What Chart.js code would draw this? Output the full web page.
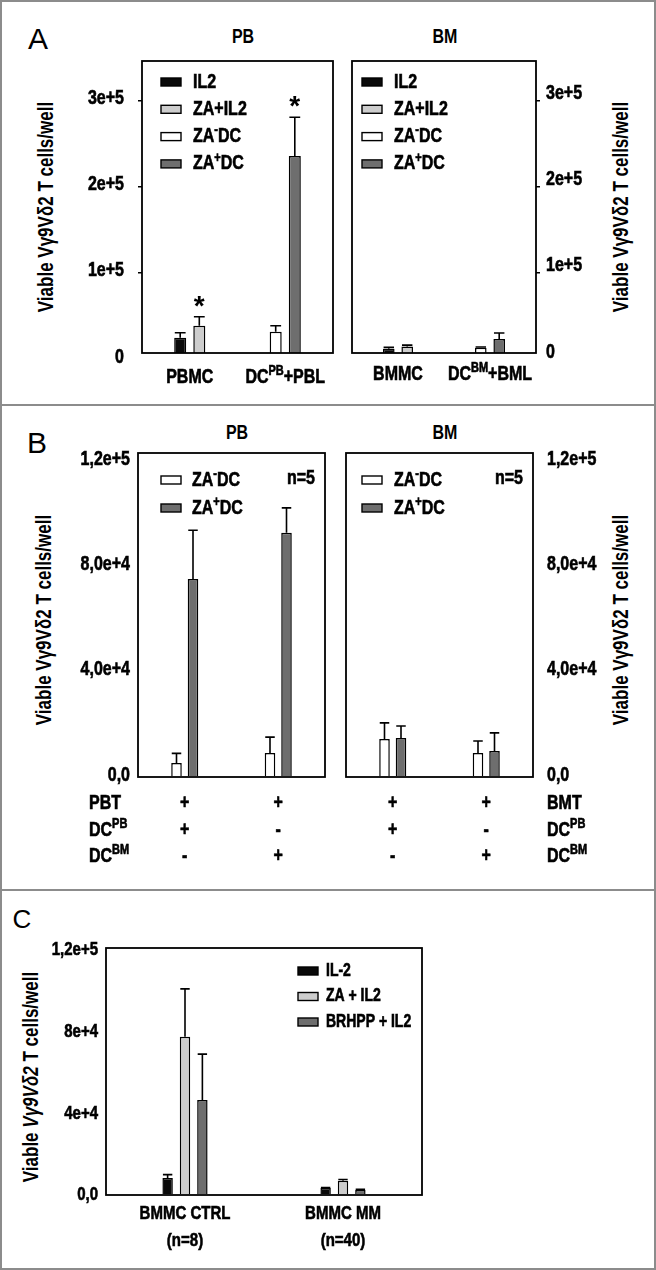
<!DOCTYPE html>
<html>
<head>
<meta charset="utf-8">
<script src="https://cdn.jsdelivr.net/npm/chart.js@4.4.1/dist/chart.umd.min.js"></script>
<style>
  body { margin: 0; background: #fff; }
  #fig { position: relative; width: 656px; height: 1270px; overflow: hidden; font-family: "Liberation Sans", Arial, sans-serif; }
  .frame { position: absolute; left: 0; top: 0; width: 656px; height: 1270px; box-sizing: border-box; border: 2px solid #8c8c8c; z-index: 5; pointer-events: none; }
  .rule { position: absolute; left: 0; width: 656px; height: 2px; background: #8c8c8c; z-index: 5; }
  .box { position: absolute; }
  .txt { position: absolute; transform: translate(-50%, -50%); white-space: nowrap; color: #000; }
  .letter { font-size: 30px; }
  .ttl { font-size: 16px; font-weight: bold; transform: translate(-50%, -50%) scaleY(1.25); }
  .ax { font-size: 17px; font-weight: bold; transform: translate(-50%, -50%) rotate(-90deg) scaleY(1.25); }
</style>
</head>
<body>
<div id="fig">
  <div class="frame"></div>
  <div class="rule" style="top:404px"></div>
  <div class="rule" style="top:889px"></div>

  <div class="txt letter" style="left:38px;top:39px">A</div>
  <div class="txt letter" style="left:37px;top:443px">B</div>
  <div class="txt letter" style="left:22px;top:919px;font-size:26px">C</div>

  <div class="txt ttl" style="left:243px;top:37px">PB</div>
  <div class="txt ttl" style="left:445px;top:37px">BM</div>
  <div class="txt ttl" style="left:237px;top:433px">PB</div>
  <div class="txt ttl" style="left:445px;top:433px">BM</div>

  <div class="txt ax" style="left:47px;top:207px">Viable Vγ9Vδ2 T cells/well</div>
  <div class="txt ax" style="left:622px;top:207px">Viable Vγ9Vδ2 T cells/well</div>
  <div class="txt ax" style="left:45px;top:620px">Viable Vγ9Vδ2 T cells/well</div>
  <div class="txt ax" style="left:622px;top:620px">Viable Vγ9Vδ2 T cells/well</div>
  <div class="txt ax" style="left:32px;top:1077px">Viable <i>Vγ9Vδ2</i> T cells/well</div>

  <div class="box" style="left:0;top:0"><canvas id="aPb" width="340" height="400"></canvas></div>
  <div class="box" style="left:330px;top:0"><canvas id="aBm" width="326" height="400"></canvas></div>
  <div class="box" style="left:0;top:406px"><canvas id="bPb" width="340" height="482"></canvas></div>
  <div class="box" style="left:330px;top:406px"><canvas id="bBm" width="326" height="482"></canvas></div>
  <div class="box" style="left:0;top:892px"><canvas id="cBm" width="656" height="376"></canvas></div>
</div>

<script>
// ---- data ----
// panel A (axis starts a little above zero, as in the original)
const aPbLabels = ['PBMC', 'DC^{PB}+PBL'];
const aBmLabels = ['BMMC', 'DC^{BM}+BML'];
const aSeries = ['IL2', 'ZA+IL2', 'ZA^{-}DC', 'ZA^{+}DC'];
const aPbIl2 = [24700, null];
const aPbZaIl2 = [38600, null];
const aPbZaNegDc = [null, 31700];
const aPbZaPosDc = [null, 235700];
const aPbIl2Err = [5800, null];
const aPbZaIl2Err = [10400, null];
const aPbZaNegDcErr = [null, 7000];
const aPbZaPosDcErr = [null, 45000];
const aPbZaIl2Star = [true, false];
const aPbZaPosDcStar = [false, true];
const aBmIl2 = [12000, null];
const aBmZaIl2 = [14600, null];
const aBmZaNegDc = [null, 13000];
const aBmZaPosDc = [null, 23200];
const aBmIl2Err = [1500, null];
const aBmZaIl2Err = [1500, null];
const aBmZaNegDcErr = [null, 1000];
const aBmZaPosDcErr = [null, 7000];
const aTicks = [0, 100000, 200000, 300000];
const aTickLabels = ['0', '1e+5', '2e+5', '3e+5'];

// panel B
const bPbt = ['+', '+'];
const bDcPb = ['+', '-'];
const bDcBm = ['-', '+'];
const bPbRows = ['PBT', 'DC^{PB}', 'DC^{BM}'];
const bBmRows = ['BMT', 'DC^{PB}', 'DC^{BM}'];
const bSeries = ['ZA^{-}DC', 'ZA^{+}DC'];
const bPbZaNeg = [5300, 9100];
const bPbZaPos = [75400, 93000];
const bPbZaNegErr = [3700, 6100];
const bPbZaPosErr = [18600, 9500];
const bBmZaNeg = [14500, 9100];
const bBmZaPos = [14900, 9900];
const bBmZaNegErr = [6100, 4600];
const bBmZaPosErr = [4500, 6900];
const bTicks = [0, 40000, 80000, 120000];
const bTickLabels = ['0,0', '4,0e+4', '8,0e+4', '1,2e+5'];

// panel C
const cLabels = [['BMMC CTRL', '(n=8)'], ['BMMC MM', '(n=40)']];
const cSeries = ['IL-2', 'ZA + IL2', 'BRHPP + IL2'];
const cIl2 = [8300, 3400];
const cZaIl2 = [77500, 7000];
const cBrhpp = [46500, 2500];
const cIl2Err = [1700, 300];
const cZaIl2Err = [23500, 600];
const cBrhppErr = [22500, 300];
const cTicks = [0, 40000, 80000, 120000];
const cTickLabels = ['0,0', '4e+4', '8e+4', '1,2e+5'];

const BLACK = '#0a0a0a', LIGHT = '#cdcdcd', WHITE = '#ffffff', DARK = '#6e6e6e';
const FAMILY = '"Liberation Sans", Arial, sans-serif';
const STRETCH = 1.25; // the original lettering is tall and narrow

Chart.defaults.font.family = FAMILY;
Chart.defaults.font.weight = 'bold';
Chart.defaults.color = '#000';

// text with ^{sup} parts, stretched vertically
function drawRich(ctx, text, x, y, size, align) {
  const parts = text.split(/(\^\{[^}]*\})/).filter(Boolean).map(p =>
    p.startsWith('^{') ? { t: p.slice(2, -1), sup: true } : { t: p, sup: false });
  const fontFor = sup => 'bold ' + (sup ? Math.round(size * 0.68) : size) + 'px ' + FAMILY;
  let w = 0;
  parts.forEach(p => { ctx.font = fontFor(p.sup); p.w = ctx.measureText(p.t).width; w += p.w; });
  let cx = align === 'center' ? x - w / 2 : align === 'right' ? x - w : x;
  ctx.save();
  ctx.translate(0, y);
  ctx.scale(1, STRETCH);
  ctx.textAlign = 'left';
  ctx.textBaseline = 'middle';
  ctx.fillStyle = '#000';
  ctx.strokeStyle = '#000';
  ctx.lineWidth = 0.5;
  parts.forEach(p => {
    ctx.font = fontFor(p.sup);
    const ty = p.sup ? -size * 0.3 : 0;
    ctx.fillText(p.t, cx, ty);
    ctx.strokeText(p.t, cx, ty);
    cx += p.w;
  });
  ctx.restore();
}

const decor = {
  id: 'decor',
  afterDatasetsDraw(chart, args, opts) {
    const ctx = chart.ctx;
    const area = chart.chartArea;
    const x = chart.scales.x, y = chart.scales.y;
    ctx.save();
    // error bars and stars
    chart.data.datasets.forEach((ds, di) => {
      const meta = chart.getDatasetMeta(di);
      ds.data.forEach((v, i) => {
        if (v === null) return;
        const el = meta.data[i];
        const err = ds.errors ? ds.errors[i] : null;
        let top = el.y;
        if (err) {
          top = y.getPixelForValue(v + err);
          const cap = el.width * 0.45;
          ctx.strokeStyle = '#000';
          ctx.lineWidth = 1.6;
          ctx.beginPath();
          ctx.moveTo(el.x, el.y);
          ctx.lineTo(el.x, top);
          ctx.moveTo(el.x - cap, top);
          ctx.lineTo(el.x + cap, top);
          ctx.stroke();
        }
        if (ds.stars && ds.stars[i]) {
          ctx.font = 'bold 28px ' + FAMILY;
          ctx.textAlign = 'center';
          ctx.textBaseline = 'middle';
          ctx.fillStyle = '#000';
          ctx.fillText('*', el.x, top - 10);
        }
      });
    });
    // frame
    ctx.strokeStyle = '#000';
    ctx.lineWidth = 1.8;
    ctx.strokeRect(area.left, area.top, area.right - area.left, area.bottom - area.top);
    // y tick labels at the scale's tick positions
    const left = opts.side === 'left';
    y.ticks.forEach((t, i) => {
      const ty = y.getPixelForValue(t.value) + opts.labelOffset;
      const tx = left ? area.left - opts.tickLen - opts.tickPad : area.right + opts.tickLen + opts.tickPad;
      drawRich(ctx, opts.tickLabels[i], tx, ty, opts.size, left ? 'right' : 'left');
    });
    // legend inside the plot
    const lg = opts.legend;
    chart.data.datasets.forEach((ds, di) => {
      const ly = area.top + lg.dy + di * lg.gap;
      const lx = area.left + lg.dx;
      ctx.fillStyle = ds.backgroundColor;
      ctx.fillRect(lx, ly - 4, 20, 8);
      ctx.lineWidth = 1.4;
      ctx.strokeStyle = '#000';
      ctx.strokeRect(lx, ly - 4, 20, 8);
      drawRich(ctx, ds.label, lx + lg.textDx, ly, lg.size, 'left');
    });
    if (opts.note) drawRich(ctx, opts.note, area.right - 10, area.top + 25, opts.size, 'right');
    // category labels (one or more lines)
    chart.data.labels.forEach((lab, i) => {
      const lines = Array.isArray(lab) ? lab : [lab];
      const px = x.getPixelForValue(i);
      lines.forEach((t, k) => drawRich(ctx, t, px, area.bottom + opts.labelY[k], opts.size, 'center'));
    });
    // row headers of the condition table
    if (opts.rows) {
      opts.rows.forEach((t, k) => {
        const px = left ? area.left + opts.rowsDx : area.right + opts.rowsDx;
        drawRich(ctx, t, px, area.bottom + opts.labelY[k], opts.size, 'left');
      });
    }
    ctx.restore();
  }
};

function makeBars(id, cfg) {
  const canvas = document.getElementById(id);
  const W = canvas.width, H = canvas.height, a = cfg.area;
  const leftAxis = cfg.yPos === 'left';
  new Chart(canvas, {
    type: 'bar',
    data: {
      labels: cfg.labels,
      datasets: cfg.series.map((s, i) => ({
        label: s,
        data: cfg.values[i],
        errors: cfg.errors[i],
        stars: cfg.stars ? cfg.stars[i] : null,
        backgroundColor: cfg.colors[i],
        borderColor: '#000',
        borderWidth: 1.5,
        skipNull: true,
        categoryPercentage: cfg.catPct,
        barPercentage: cfg.barPct
      }))
    },
    options: {
      responsive: false,
      animation: false,
      layout: {
        autoPadding: false,
        padding: { top: a.top, bottom: 0, left: leftAxis ? 0 : a.left, right: leftAxis ? W - a.right : 0 }
      },
      scales: {
        x: {
          ticks: { display: false },
          grid: { display: false },
          border: { display: false },
          afterFit: s => { s.height = H - a.bottom; s.paddingLeft = 0; s.paddingRight = 0; }
        },
        y: {
          position: cfg.yPos,
          min: cfg.yMin,
          max: cfg.yMax,
          afterBuildTicks: s => { s.ticks = cfg.ticks.map(v => ({ value: v })); },
          ticks: { display: false },
          grid: {
            drawOnChartArea: false,
            drawTicks: cfg.tickLen > 0,
            tickLength: cfg.tickLen,
            color: c => (c.tick && c.tick.value < cfg.yMin) ? 'rgba(0,0,0,0)' : '#000',
            lineWidth: 1.5
          },
          border: { display: false },
          afterFit: s => {
            s.width = leftAxis ? a.left : W - a.right;
            s.paddingTop = 0; s.paddingBottom = 0;
          }
        }
      },
      plugins: {
        legend: { display: false },
        tooltip: { enabled: false },
        decor: {
          side: cfg.yPos,
          tickLabels: cfg.tickLabels,
          tickLen: cfg.tickLen,
          tickPad: cfg.tickPad,
          labelOffset: cfg.labelOffset || 0,
          legend: cfg.legend,
          note: cfg.note,
          size: cfg.size,
          labelY: cfg.labelY,
          rows: cfg.rows,
          rowsDx: cfg.rowsDx
        }
      }
    },
    plugins: [decor]
  });
}

const aColors = [BLACK, LIGHT, WHITE, DARK];

makeBars('aPb', {
  labels: aPbLabels, series: aSeries, colors: aColors,
  values: [aPbIl2, aPbZaIl2, aPbZaNegDc, aPbZaPosDc],
  errors: [aPbIl2Err, aPbZaIl2Err, aPbZaNegDcErr, aPbZaPosDcErr],
  stars: [null, aPbZaIl2Star, null, aPbZaPosDcStar],
  area: { left: 142, right: 333, top: 61, bottom: 353 }, yPos: 'left',
  yMin: 7000, yMax: 345900, ticks: aTicks, tickLabels: aTickLabels, tickPad: 14, tickLen: 4,
  labelOffset: -2,
  catPct: 0.4, barPct: 0.63, size: 16,
  legend: { dx: 19, dy: 21, gap: 27.3, textDx: 32, size: 16 },
  labelY: [24]
});

makeBars('aBm', {
  labels: aBmLabels, series: aSeries, colors: aColors,
  values: [aBmIl2, aBmZaIl2, aBmZaNegDc, aBmZaPosDc],
  errors: [aBmIl2Err, aBmZaIl2Err, aBmZaNegDcErr, aBmZaPosDcErr],
  area: { left: 22, right: 206, top: 61, bottom: 353 }, yPos: 'right',
  yMin: 7000, yMax: 345900, ticks: aTicks, tickLabels: aTickLabels, tickPad: 6, tickLen: 4,
  labelOffset: -7,
  catPct: 0.4, barPct: 0.63, size: 16,
  legend: { dx: 10, dy: 21, gap: 27.3, textDx: 32, size: 16 },
  labelY: [21]
});

const bLabels = bPbt.map((v, i) => [v, bDcPb[i], bDcBm[i]]);

makeBars('bPb', {
  labels: bLabels, series: bSeries, colors: [WHITE, DARK],
  values: [bPbZaNeg, bPbZaPos],
  errors: [bPbZaNegErr, bPbZaPosErr],
  area: { left: 138, right: 325, top: 47, bottom: 371 }, yPos: 'left',
  yMin: 0, yMax: 123400, ticks: bTicks, tickLabels: bTickLabels, tickPad: 8, tickLen: 0,
  labelOffset: -2,
  catPct: 0.353, barPct: 0.64, size: 16,
  legend: { dx: 23, dy: 27, gap: 28, textDx: 31, size: 16 },
  note: 'n=5',
  labelY: [26, 53, 79],
  rows: bPbRows, rowsDx: -49
});

makeBars('bBm', {
  labels: bLabels, series: bSeries, colors: [WHITE, DARK],
  values: [bBmZaNeg, bBmZaPos],
  errors: [bBmZaNegErr, bBmZaPosErr],
  area: { left: 16, right: 203, top: 47, bottom: 371 }, yPos: 'right',
  yMin: 0, yMax: 123400, ticks: bTicks, tickLabels: bTickLabels, tickPad: 14, tickLen: 0,
  labelOffset: -2,
  catPct: 0.353, barPct: 0.64, size: 16,
  legend: { dx: 16, dy: 27, gap: 28, textDx: 32, size: 16 },
  note: 'n=5',
  labelY: [26, 53, 79],
  rows: bBmRows, rowsDx: 14
});

makeBars('cBm', {
  labels: cLabels, series: cSeries, colors: [BLACK, LIGHT, DARK],
  values: [cIl2, cZaIl2, cBrhpp],
  errors: [cIl2Err, cZaIl2Err, cBrhppErr],
  area: { left: 106, right: 422, top: 56, bottom: 303 }, yPos: 'left',
  yMin: 0, yMax: 121000, ticks: cTicks, tickLabels: cTickLabels, tickPad: 8, tickLen: 0,
  labelOffset: 0,
  catPct: 0.33, barPct: 0.6, size: 15,
  legend: { dx: 192, dy: 23, gap: 25.5, textDx: 28, size: 14 },
  labelY: [19, 46]
});
</script>
</body>
</html>
